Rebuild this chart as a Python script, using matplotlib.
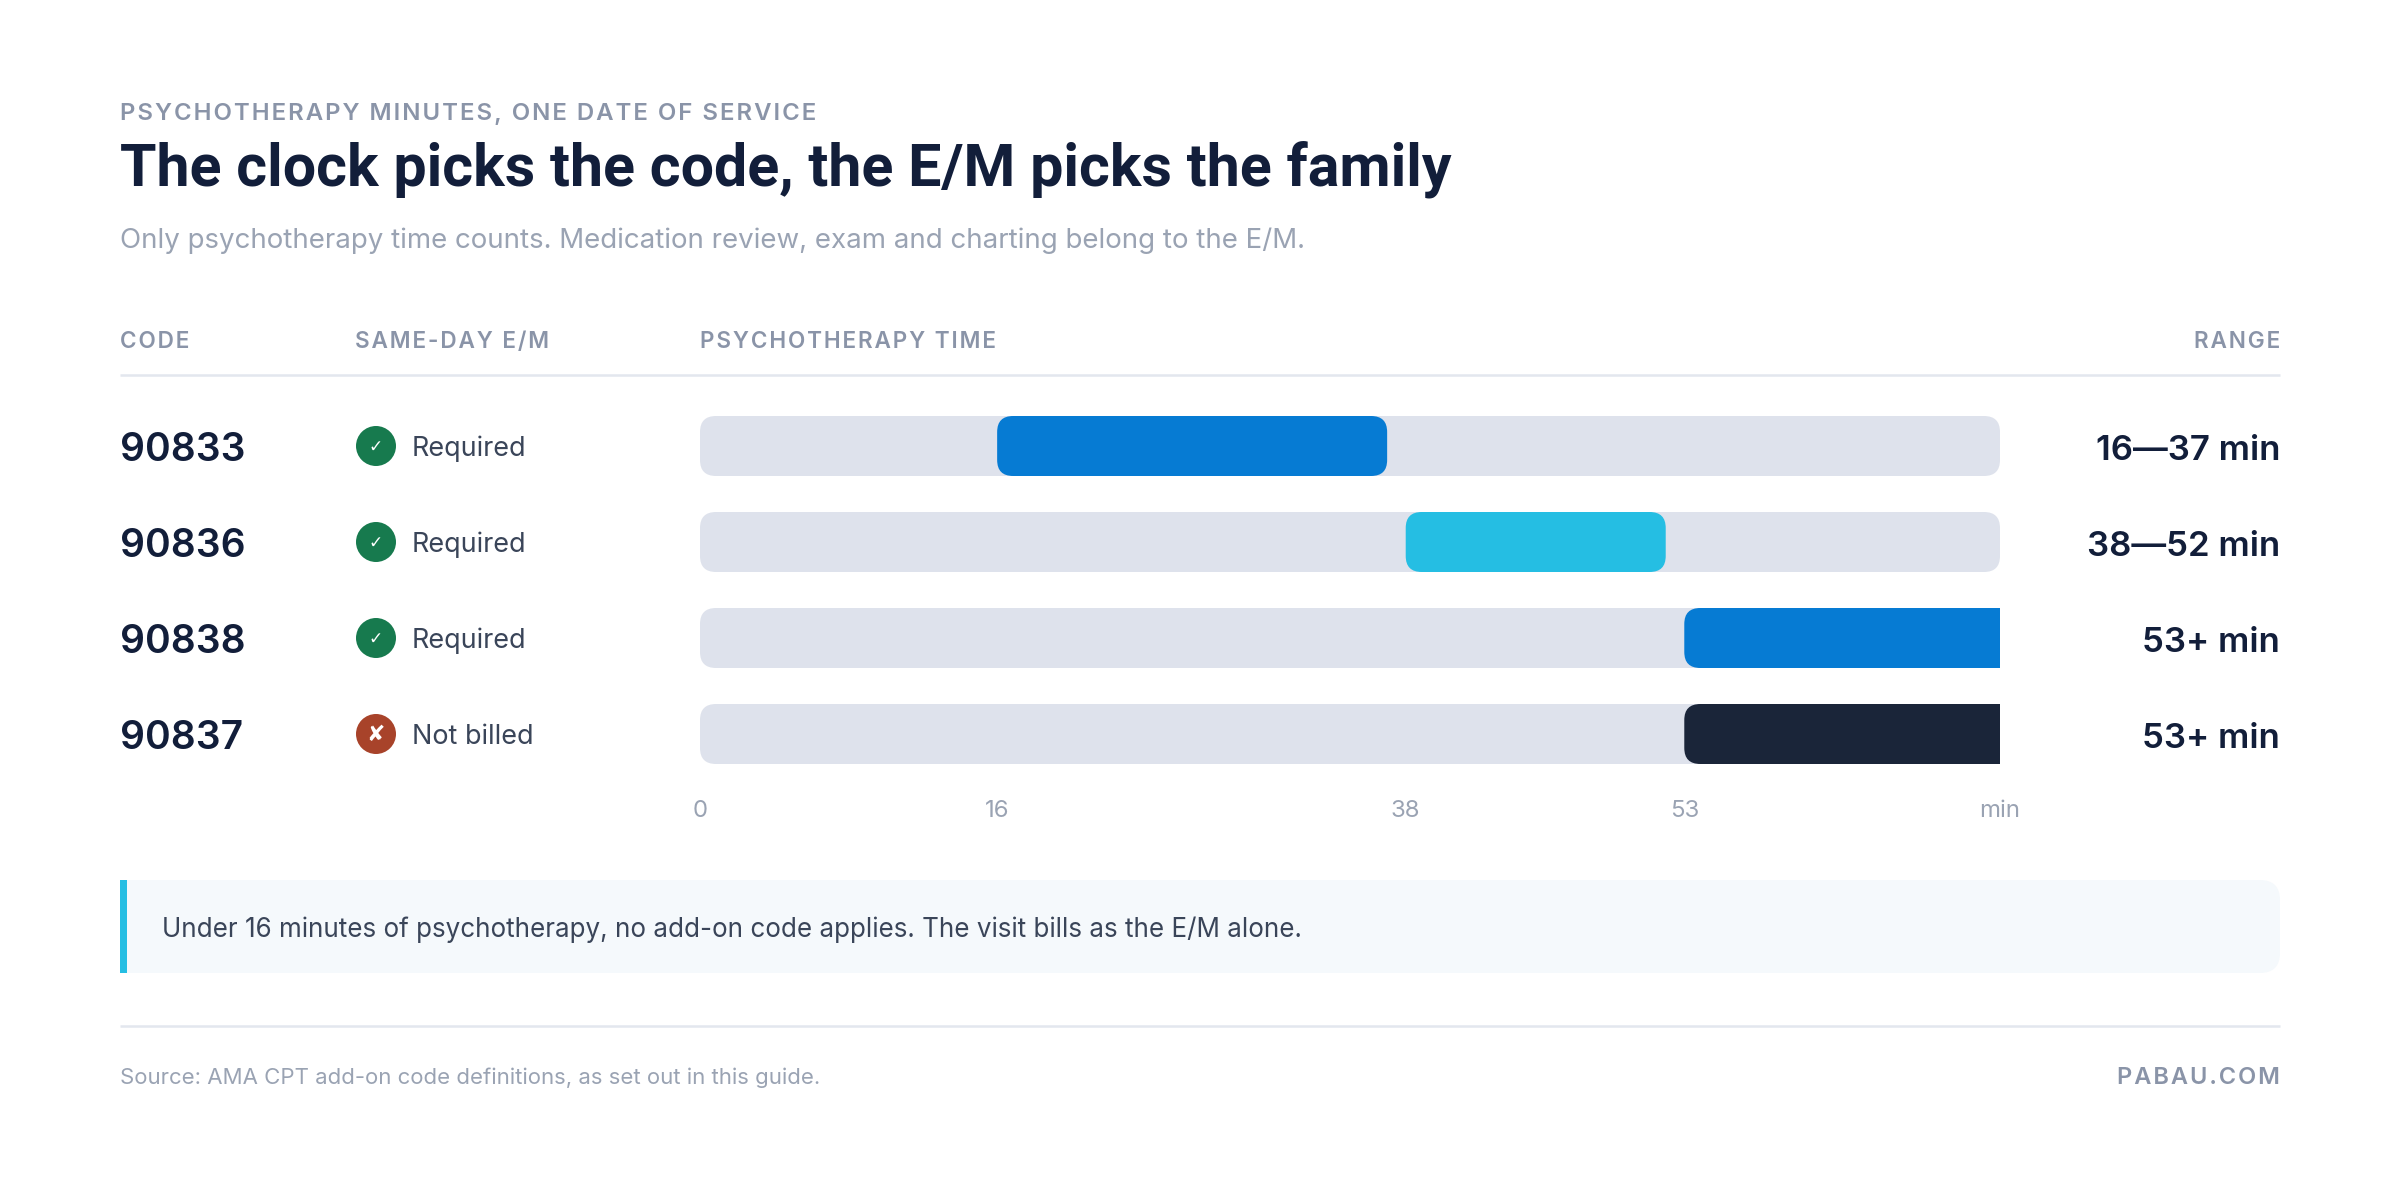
import matplotlib
matplotlib.use('Agg')
import matplotlib.pyplot as plt
from matplotlib.patches import FancyBboxPatch, Rectangle, Circle

codes = ['90833', '90836', '90838', '90837']
em_status = ['Required', 'Required', 'Required', 'Not billed']
start_min = [16, 38, 53, 53]
end_min = [37, 52, 70, 70]
range_labels = ['16—37 min', '38—52 min', '53+ min', '53+ min']
bar_colors = ['#067bd3', '#25bee3', '#067bd3', '#1a2539']
tick_values = [0, 16, 38, 53, 70]
tick_labels = ['0', '16', '38', '53', 'min']
axis_max = 70

W, H = 2400, 1190
DPI = 200
FONT = ['Inter', 'DejaVu Sans']
INK = '#121e3a'
BODY = '#3a4559'
GREY = '#8a94a8'
LIGHT = '#9aa3b3'
RULE = '#e3e7ee'

plt.rcParams['font.family'] = FONT


def px(size):
    return size * 72 / DPI


def spaced(s):
    return '\u200a'.join(s)


fig = plt.figure(figsize=(W / DPI, H / DPI), dpi=DPI, facecolor='white')

# page layer, in pixels
page = fig.add_axes([0, 0, 1, 1])
page.set_xlim(0, W)
page.set_ylim(H, 0)
page.axis('off')


def label(x, y, s, size, color, weight='normal', ha='left', family=None):
    page.text(x, y, s, fontsize=px(size), color=color, fontweight=weight, ha=ha, va='baseline',
              family=family or FONT)


label(120, 120, spaced('PSYCHOTHERAPY MINUTES, ONE DATE OF SERVICE'), 24, GREY, 'semibold')
label(120, 186, 'The clock picks the code, the E/M picks the family', 59.2, INK, 'semibold', family=['Roboto', 'DejaVu Sans'])
label(120, 248, 'Only psychotherapy time counts. Medication review, exam and charting belong to the E/M.', 27.7, LIGHT)

label(120, 348, spaced('CODE'), 22.6, GREY, 'semibold')
label(355, 348, spaced('SAME-DAY E/M'), 22.6, GREY, 'semibold')
label(700, 348, spaced('PSYCHOTHERAPY TIME'), 22.6, GREY, 'semibold')
label(2280, 348, spaced('RANGE'), 22.6, GREY, 'semibold', ha='right')
page.plot([120, 2280], [375, 375], color=RULE, lw=px(2.5), solid_capstyle='butt')

# rows, left and right columns
for i, (code, status, rng) in enumerate(zip(codes, em_status, range_labels)):
    cy = 446 + 96 * i
    label(120, cy + 15, code, 39, INK, 'semibold')
    ok = status == 'Required'
    page.add_patch(Circle((376, cy), 20, facecolor='#177a4e' if ok else '#a8432a', edgecolor='none'))
    page.text(376, cy + 1, '✓' if ok else '✘', fontsize=px(17 if ok else 22), color='white',
              family='DejaVu Sans', fontweight='bold', ha='center', va='center')
    label(412, cy + 10, status, 27, BODY)
    label(2280, cy + 14, rng, 34.8, INK, 'semibold', ha='right')

# bars
ax = fig.add_axes([700 / W, 1 - 782 / H, 1300 / W, 384 / H])
ax.patch.set_alpha(0)
ax.set_xlim(0, axis_max)
ax.set_ylim(3.5, -0.5)
for s in ax.spines.values():
    s.set_visible(False)
ax.set_yticks([])
ax.set_xticks(tick_values)
ax.set_xticklabels(tick_labels, fontsize=px(24), color=LIGHT)
ax.tick_params(axis='x', length=0, pad=px(18))

bar_h = 60 / 96
r_x = 16 * axis_max / 1300
aspect = (16 / 96) / r_x


def round_bar(x0, x1, row, color):
    ax.add_patch(FancyBboxPatch((x0, row - bar_h / 2), x1 - x0, bar_h,
                                boxstyle=f'round,pad=0,rounding_size={r_x}',
                                mutation_aspect=aspect, facecolor=color, edgecolor='none'))


for i in range(len(codes)):
    round_bar(0, axis_max, i, '#dee2ec')
    # open ended bars run past the axis edge so their right side is cut square
    x1 = end_min[i] + 2 * r_x if end_min[i] == axis_max else end_min[i]
    round_bar(start_min[i], x1, i, bar_colors[i])

# callout
page.add_patch(FancyBboxPatch((120, 880), 2160, 93, boxstyle='round,pad=0,rounding_size=20',
                              facecolor='#f5f9fc', edgecolor='none'))
page.add_patch(Rectangle((120, 880), 40, 93, facecolor='#f5f9fc', edgecolor='none'))
page.add_patch(Rectangle((120, 880), 7, 93, facecolor='#25bee3', edgecolor='none'))
label(162, 937, 'Under 16 minutes of psychotherapy, no add-on code applies. The visit bills as the E/M alone.', 26, BODY)

# footer
page.plot([120, 2280], [1026, 1026], color=RULE, lw=px(2.5), solid_capstyle='butt')
label(120, 1084, 'Source: AMA CPT add-on code definitions, as set out in this guide.', 22.2, LIGHT)
label(2280, 1084, spaced('PABAU.COM'), 23.6, GREY, 'semibold', ha='right')

fig.savefig('out.png', dpi=DPI, facecolor='white')
